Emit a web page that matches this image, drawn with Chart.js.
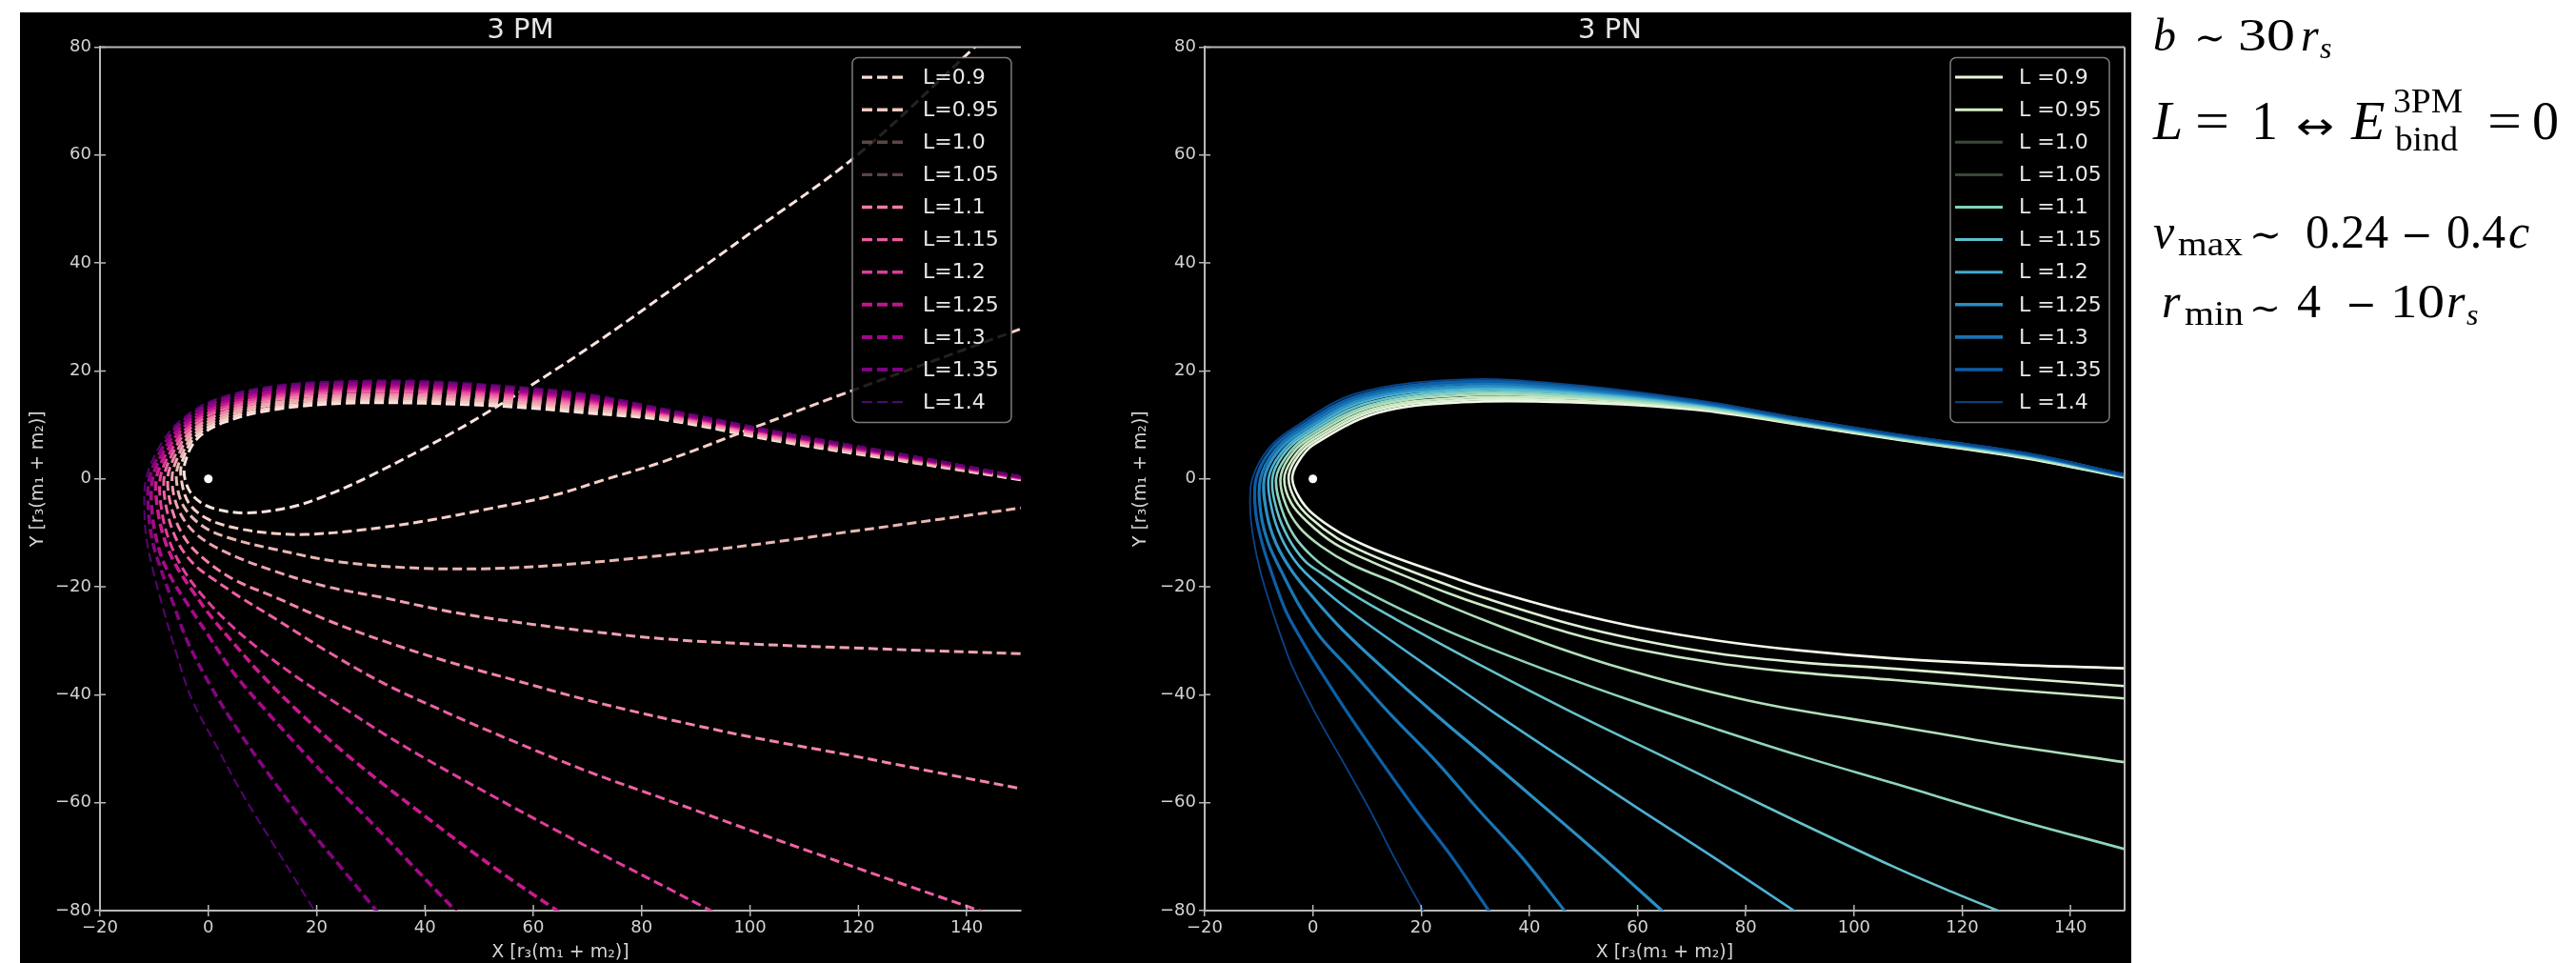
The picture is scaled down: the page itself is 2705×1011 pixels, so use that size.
<!DOCTYPE html>
<html>
<head>
<meta charset="utf-8">
<script src="https://cdn.jsdelivr.net/npm/chart.js@4.4.1/dist/chart.umd.min.js"></script>
<style>
html,body{margin:0;padding:0;background:#ffffff;width:2705px;height:1011px;overflow:hidden}
#bg{position:absolute;left:21px;top:13px;width:2217px;height:998px;background:#000}
#c1{position:absolute;left:21px;top:13px;width:1129px;height:998px}
#c2{position:absolute;left:1150px;top:13px;width:1088px;height:998px}
#notes{position:absolute;left:0;top:0}
</style>
</head>
<body>
<div id="bg"></div>
<canvas id="c1" width="1129" height="998"></canvas>
<canvas id="c2" width="1088" height="998"></canvas>
<svg id="notes" width="2705" height="1011" xmlns="http://www.w3.org/2000/svg" font-family="'Liberation Serif','Times New Roman',serif" fill="#000">
  <text x="2261" y="53" font-size="48" font-style="italic">b</text>
  <text x="2304" y="53" font-size="40" font-family="'DejaVu Serif'" textLength="33" lengthAdjust="spacingAndGlyphs">∼</text>
  <text x="2350" y="53" font-size="48" textLength="60" lengthAdjust="spacingAndGlyphs">30</text>
  <text x="2416" y="53" font-size="48" font-style="italic">r</text>
  <text x="2436" y="61" font-size="32" font-style="italic">s</text>

  <text x="2261" y="146" font-size="56" font-style="italic">L</text>
  <text x="2305" y="146" font-size="56" textLength="36" lengthAdjust="spacingAndGlyphs">=</text>
  <text x="2364" y="146" font-size="56">1</text>
  <text x="2411" y="146" font-size="40" font-family="'DejaVu Sans'" textLength="40" lengthAdjust="spacingAndGlyphs">↔</text>
  <text x="2469" y="146" font-size="58" font-style="italic">E</text>
  <text x="2513" y="118" font-size="35" textLength="73" lengthAdjust="spacingAndGlyphs">3PM</text>
  <text x="2515" y="158" font-size="36" textLength="66" lengthAdjust="spacingAndGlyphs">bind</text>
  <text x="2612" y="146" font-size="56" textLength="36" lengthAdjust="spacingAndGlyphs">=</text>
  <text x="2659" y="146" font-size="56">0</text>

  <text x="2261" y="260" font-size="50" font-style="italic">v</text>
  <text x="2287" y="268" font-size="36" textLength="68" lengthAdjust="spacingAndGlyphs">max</text>
  <text x="2362" y="260" font-size="40" font-family="'DejaVu Serif'" textLength="34" lengthAdjust="spacingAndGlyphs">∼</text>
  <text x="2421" y="260" font-size="50" textLength="87" lengthAdjust="spacingAndGlyphs">0.24</text>
  <text x="2521" y="260" font-size="40" font-family="'DejaVu Serif'" textLength="34" lengthAdjust="spacingAndGlyphs">−</text>
  <text x="2569" y="260" font-size="50" textLength="62" lengthAdjust="spacingAndGlyphs">0.4</text>
  <text x="2634" y="260" font-size="50" font-style="italic">c</text>

  <text x="2270" y="333" font-size="50" font-style="italic">r</text>
  <text x="2294" y="341" font-size="36" textLength="62" lengthAdjust="spacingAndGlyphs">min</text>
  <text x="2362" y="336" font-size="36" font-family="'DejaVu Serif'" textLength="33" lengthAdjust="spacingAndGlyphs">∼</text>
  <text x="2412" y="333" font-size="50">4</text>
  <text x="2463" y="333" font-size="40" font-family="'DejaVu Serif'" textLength="33" lengthAdjust="spacingAndGlyphs">−</text>
  <text x="2510" y="333" font-size="50" textLength="57" lengthAdjust="spacingAndGlyphs">10</text>
  <text x="2569" y="333" font-size="50" font-style="italic">r</text>
  <text x="2590" y="341" font-size="32" font-style="italic">s</text>
</svg>
<script>
// ---------------- data ----------------
const xTicks = [-20, 0, 20, 40, 60, 80, 100, 120, 140];
const yTicks = [-80, -60, -40, -20, 0, 20, 40, 60, 80];

const pmLabels = ['L=0.9','L=0.95','L=1.0','L=1.05','L=1.1','L=1.15','L=1.2','L=1.25','L=1.3','L=1.35','L=1.4'];
const pnLabels = ['L =0.9','L =0.95','L =1.0','L =1.05','L =1.1','L =1.15','L =1.2','L =1.25','L =1.3','L =1.35','L =1.4'];

// 3 PM trajectories [x, y]
const pmL090 = [[150,-0.2],[130,3.0],[105,7.0],[85,10.8],[70,12.2],[55,13.4],[40,14.0],[25,14.0],[12,12.8],[3,10.5],[-2,7.5],[-4.3,3],[-4.2,-0.5],[-2.5,-3.5],[1,-5.5],[7,-6.3],[15,-5.3],[22,-3],[29.8,0.5],[45,8.5],[58.9,16.9],[72,25.5],[84.7,34.5],[100,45.5],[119.7,59.9],[141.5,80],[144,82.5]];
const pmL095 = [[150,-0.1],[130,3.1],[105,7.2],[85,11.0],[70,12.6],[55,13.8],[40,14.4],[25,14.4],[12,13.2],[2.8,10.9],[-2.4,7.8],[-4.8,3.3],[-5.0,0],[-3.6,-4.5],[0,-7.5],[5.5,-9.2],[12,-10.1],[18,-10.3],[28,-9.5],[40,-7.8],[52,-5.5],[63.6,-3.1],[73,-0.2],[84,3.2],[101.5,9.8],[116,15.3],[131.8,21.1],[150,27.8]];
const pmL100 = [[150,0.0],[130,3.2],[105,7.4],[85,11.2],[70,12.9],[55,14.2],[40,14.8],[25,14.8],[12,13.7],[2.6,11.3],[-2.7,8.1],[-5.2,3.6],[-5.9,0],[-4.6,-5],[-1,-8.8],[4,-11],[12.5,-13.1],[24.3,-15.4],[40,-16.6],[55.8,-16.5],[71.5,-15.4],[84.7,-14.1],[100,-12.3],[118.3,-9.8],[135,-7.5],[150,-5.4]];
const pmL105 = [[150,0.0],[130,3.4],[105,7.5],[85,11.4],[70,13.3],[55,14.5],[40,15.2],[25,15.2],[12,14.1],[2.4,11.7],[-3.1,8.4],[-5.7,3.9],[-6.7,0],[-5.6,-5.5],[-2.5,-10],[3,-13.5],[12.5,-17.2],[22,-20],[32.2,-22],[44,-24.5],[55.8,-26.4],[70,-28.2],[84.7,-29.7],[100,-30.6],[118.3,-31.3],[135,-31.9],[150,-32.4]];
const pmL110 = [[150,0.0],[130,3.5],[105,7.7],[85,11.6],[70,13.6],[55,14.9],[40,15.6],[25,15.6],[12,14.6],[2.2,12.1],[-3.4,8.7],[-6.2,4.2],[-7.5,0],[-6.6,-6],[-4,-11.5],[0,-15.5],[5,-18.8],[12.5,-22],[22,-26.2],[32.2,-30],[44,-33.8],[55.8,-37.1],[70,-41],[84.7,-44.5],[100,-47.8],[118.3,-51.2],[135,-54.5],[150,-57.4]];
const pmL115 = [[150,0.1],[130,3.6],[105,7.9],[85,11.8],[70,14.0],[55,15.3],[40,16.1],[25,16.1],[12,15.0],[2,12.6],[-3.8,9],[-6.7,4.5],[-8.2,0],[-7.5,-6.5],[-5.5,-12],[-2.5,-16],[0.8,-18.5],[6,-22],[12.5,-26],[22,-32],[32.2,-37.8],[44,-43.3],[55.8,-48.4],[70,-54.2],[84.7,-59.5],[100,-65.1],[118.3,-71.6],[130,-75.7],[141.8,-79.8],[146,-81.2]];
const pmL120 = [[150,0.2],[130,3.7],[105,8.1],[85,12.0],[70,14.3],[55,15.7],[40,16.5],[25,16.5],[12,15.4],[1.8,13],[-4.1,9.3],[-7.1,4.8],[-8.9,0],[-8.5,-6.5],[-7,-12],[-4.5,-17],[-1.6,-21],[3,-26],[8.7,-31],[16,-36.5],[24.3,-42],[32,-47],[40,-51.8],[52,-58.5],[63.6,-64.8],[75,-70.8],[84.7,-75.8],[91.2,-79.2],[95,-81.2]];
const pmL125 = [[150,0.2],[130,3.8],[105,8.3],[85,12.2],[70,14.7],[55,16.1],[40,16.9],[25,16.9],[12,15.9],[1.6,13.4],[-4.5,9.6],[-7.6,5.1],[-9.6,0],[-9.3,-6],[-8,-11.5],[-6,-16],[-3.1,-20.5],[0.5,-25.5],[4.7,-30.5],[10,-36.5],[16.5,-43],[24,-49.8],[32.2,-56.5],[40,-62.5],[47.9,-68.5],[56,-74.3],[64.4,-80],[66,-81.1]];
const pmL130 = [[150,0.3],[130,4.0],[105,8.4],[85,12.4],[70,15.0],[55,16.4],[40,17.3],[25,17.3],[12,16.3],[1.4,13.8],[-4.8,9.9],[-8.1,5.4],[-10.3,0],[-10.3,-7],[-8.8,-14],[-6.5,-19],[-3.9,-23.1],[0,-29],[4.7,-36],[10.5,-42.8],[16.5,-49.5],[23.5,-57],[30.6,-64.2],[38,-72],[45.6,-80],[47,-81.5]];
const pmL135 = [[150,0.3],[130,4.1],[105,8.6],[85,12.6],[70,15.4],[55,16.8],[40,17.7],[25,17.7],[12,16.8],[1.2,14.2],[-5.2,10.2],[-8.5,5.7],[-10.9,0],[-11,-6.5],[-10.2,-12],[-8.6,-17.2],[-6.5,-23],[-3.9,-30],[0.5,-38.5],[5.5,-46.6],[11.5,-55.2],[18.1,-64.2],[24.5,-72],[31,-80],[32,-81.3]];
const pmL140 = [[150,0.4],[130,4.2],[105,8.8],[85,12.8],[70,15.7],[55,17.2],[40,18.1],[25,18.1],[12,17.2],[1,14.6],[-5.5,10.5],[-9,6],[-11.5,0],[-11.8,-6],[-11.4,-11.3],[-10.2,-17],[-8.6,-23.1],[-6,-32],[-3.1,-40.7],[1.5,-49.5],[6.3,-58.4],[12.5,-68.5],[19.6,-80],[20.5,-81.4]];

// 3 PN trajectories [x, y]
const pnL090 = [[150,0.2],[131.7,3.8],[107.6,7.3],[90,10.0],[70.8,12.8],[47.2,14.2],[27.6,14.2],[11.9,12.2],[0.1,6.3],[-2.8,3],[-3.8,0],[-2.5,-3.5],[0,-6.5],[5,-10],[10,-12.5],[15.8,-14.8],[25,-18],[31.5,-20.2],[47.2,-24.6],[60,-27.5],[75,-30],[90,-31.8],[107.6,-33.3],[128,-34.4],[150,-35.1]];
const pnL095 = [[150,0.3],[131.7,3.9],[107.6,7.4],[90,10.1],[70.8,13.0],[47.2,14.5],[27.6,14.6],[11.5,12.6],[-0.3,6.6],[-3.4,3.3],[-4.5,0],[-3.2,-4],[-0.5,-7.2],[4.5,-11],[10,-13.8],[15.8,-16.2],[25,-19.7],[31.5,-22],[47.2,-26.8],[60,-29.8],[75,-32.4],[90,-34],[107.6,-35.2],[128,-36.8],[150,-38.4]];
const pnL100 = [[150,0.3],[131.7,4.0],[107.6,7.5],[90,10.2],[70.8,13.2],[47.2,14.9],[27.6,15.0],[11.1,12.9],[-0.7,6.9],[-3.9,3.5],[-5.3,0],[-4,-4.5],[-1,-8],[4,-12],[10,-15],[15.8,-17.5],[25,-21.2],[31.5,-23.5],[47.2,-28.5],[60,-31.6],[75,-34.2],[90,-35.9],[107.6,-37.3],[128,-39],[150,-40.7]];
const pnL105 = [[150,0.4],[131.7,4.1],[107.6,7.6],[90,10.4],[70.8,13.3],[47.2,15.2],[27.6,15.5],[10.7,13.3],[-1.1,7.2],[-4.5,3.8],[-6,0],[-5,-4.8],[-2.5,-9],[1.5,-12.5],[7,-15.8],[15.8,-19.5],[25,-23.5],[35,-27.5],[45,-31.2],[55.1,-34.5],[70,-38.6],[85,-42],[107.6,-45.8],[128,-49.3],[150,-52.5]];
const pnL110 = [[150,0.4],[131.7,4.2],[107.6,7.7],[90,10.5],[70.8,13.5],[47.2,15.5],[27.6,15.9],[10.3,13.6],[-1.5,7.5],[-5,4],[-6.8,0],[-5.8,-5.5],[-3.5,-10.5],[0,-14.5],[4,-17.5],[10,-21],[18,-25],[28,-29.5],[43.3,-35.5],[60,-41.5],[75,-46.5],[90,-51.3],[107.6,-56.5],[128,-62.6],[150,-68.6]];
const pnL115 = [[150,0.5],[131.7,4.3],[107.6,7.8],[90,10.6],[70.8,13.7],[47.2,15.9],[27.6,16.3],[10,14],[-1.9,7.8],[-5.6,4.3],[-7.5,0],[-6.6,-6],[-4.5,-11],[-1.5,-15.2],[1.6,-17.5],[8,-21.8],[16,-26.4],[31.5,-34.8],[48,-43.3],[66.9,-52.5],[87,-62.3],[107.6,-72],[118,-76.5],[126.6,-80],[130,-81.3]];
const pnL120 = [[150,0.6],[131.7,4.4],[107.6,7.9],[90,10.7],[70.8,13.9],[47.2,16.2],[27.6,16.7],[9.6,14.4],[-2.2,8.1],[-6.1,4.5],[-8.2,0],[-7.5,-6],[-5.8,-11],[-3.6,-14.8],[-1.4,-17.4],[4,-22.2],[10,-26.8],[21.3,-34.8],[33,-43],[47.2,-52.5],[60,-61],[74,-70.1],[88.9,-80],[91,-81.4]];
const pnL125 = [[150,0.6],[131.7,4.5],[107.6,8.0],[90,10.8],[70.8,14.1],[47.2,16.5],[27.6,17.1],[9.2,14.7],[-2.6,8.4],[-6.7,4.8],[-9,0],[-8.5,-6.5],[-6.8,-12],[-3.8,-17.2],[0.5,-22.5],[5.5,-28],[12.7,-34.8],[22.5,-43.5],[33.1,-52.5],[43,-61],[53.5,-70.1],[64.5,-80],[66,-81.3]];
const pnL130 = [[150,0.7],[131.7,4.6],[107.6,8.1],[90,11.0],[70.8,14.2],[47.2,16.8],[27.6,17.6],[8.8,15.1],[-3,8.7],[-7.2,5],[-9.7,0],[-9.6,-6.5],[-8.2,-12],[-5.8,-17.2],[-2.5,-23.5],[1.5,-29.5],[6.4,-34.8],[14.5,-43.8],[22.9,-52.5],[30.5,-61.2],[38.6,-70.1],[46.5,-80],[47.5,-81.3]];
const pnL135 = [[150,0.7],[131.7,4.7],[107.6,8.2],[90,11.1],[70.8,14.4],[47.2,17.2],[27.6,18.0],[8.4,15.4],[-3.4,9],[-7.8,5.3],[-10.5,0],[-10.6,-6],[-9.5,-11.5],[-7.7,-17.2],[-5,-24.5],[-2,-30],[0.9,-34.8],[6.5,-43.5],[12.7,-52.5],[19,-61.3],[25.7,-70.1],[32.5,-80],[33.5,-81.4]];
const pnL140 = [[150,0.8],[131.7,4.8],[107.6,8.3],[90,11.2],[70.8,14.6],[47.2,17.5],[27.6,18.4],[8,15.8],[-3.8,9.3],[-8.3,5.5],[-11.2,0],[-11.6,-5.5],[-11,-11],[-9.7,-17.2],[-7.5,-24.5],[-5.8,-29.5],[-3.8,-34.8],[0.5,-43.5],[5.6,-52.5],[10.5,-61.3],[15,-70.1],[20.4,-80],[21.2,-81.4]];

const centerPoint = [[0, 0]];

// ---------------- styles ----------------
const FONT = "'DejaVu Sans', 'Liberation Sans', sans-serif";
const AXC = '#b8b8b8';
const TXC = '#d4d4d4';
const pmLineColors   = ['#fbe4df','#f8d0c8','#eab8b2','#eea3b2','#f384ac','#ee62a2','#df3f9c','#c81b8e','#a9098a','#84057e','#590471'];
const pmLegendColors = ['#f6dcd6','#f3c8c0','#5c4646','#5e4149','#f27aa8','#ec5b9d','#da3d9b','#c0168a','#a0078a','#7a0680','#4a0a70'];
const pnLineColors   = ['#f1f9e9','#dcf0d2','#cbe8c4','#b2dfba','#8ed4c0','#66c2ca','#4cb0d4','#2c90c4','#1876b4','#0c5ea6','#0a4488'];
const pnLegendColors = ['#eaf5dc','#d6efc8','#3c4a3c','#3a4838','#7fd4bf','#5bbfcb','#44a9d0','#2a8cc4','#1a72b4','#0c5ea4','#0a3f7e'];
const pmWidths = [3.0,3.0,3.0,3.0,3.0,3.0,3.0,3.6,3.6,3.6,2.0];
const pnWidths = [2.6,2.6,2.6,2.6,2.6,2.6,2.6,3.2,3.2,3.2,1.8];

const pmCurves = [pmL090,pmL095,pmL100,pmL105,pmL110,pmL115,pmL120,pmL125,pmL130,pmL135,pmL140];
const pnCurves = [pnL090,pnL095,pnL100,pnL105,pnL110,pnL115,pnL120,pnL125,pnL130,pnL135,pnL140];

const fmt = v => (v < 0 ? '\u2212' + Math.abs(v) : String(v));

function buildSets(curves, labels, lineColors, legendColors, widths, dashed) {
  const sets = curves.map((c, i) => ({
    label: labels[i],
    data: c.map(p => ({x: p[0], y: p[1]})),
    showLine: true, pointRadius: 0, pointHoverRadius: 0,
    borderColor: lineColors[i], backgroundColor: lineColors[i],
    legendColor: legendColors[i],
    borderWidth: widths[i],
    borderDash: dashed ? [10, 5] : [],
    tension: 0.35, fill: false,
    order: curves.length - i + 1,
    isCurve: true
  }));
  sets.push({
    label: 'center', data: centerPoint.map(p => ({x: p[0], y: p[1]})),
    showLine: false, pointRadius: 4.5, pointHoverRadius: 4.5,
    pointBackgroundColor: '#ffffff', pointBorderColor: '#ffffff', pointBorderWidth: 0,
    order: 0, isCurve: false
  });
  return sets;
}

const framePlugin = {
  id: 'frame',
  afterDatasetsDraw(chart, args, opts) {
    const {ctx, chartArea: a} = chart;
    const xs = chart.scales.x, ys = chart.scales.y;
    ctx.save();
    ctx.strokeStyle = AXC;
    ctx.lineWidth = 2;
    ctx.setLineDash([]);
    ctx.beginPath();
    ctx.moveTo(a.left, a.top); ctx.lineTo(a.right, a.top);
    if (opts.rightSpine) { ctx.moveTo(a.right, a.top); ctx.lineTo(a.right, a.bottom); }
    ctx.stroke();
    ctx.lineWidth = 1.5;
    ctx.beginPath();
    xTicks.forEach(v => { const px = xs.getPixelForValue(v); ctx.moveTo(px, a.bottom); ctx.lineTo(px, a.bottom - 6); });
    yTicks.forEach(v => { const py = ys.getPixelForValue(v); ctx.moveTo(a.left, py); ctx.lineTo(a.left + 6, py); });
    ctx.stroke();
    const bw = 167, bh = 383;
    const bx = a.right - opts.rightGap - bw, by = a.top + 11;
    ctx.fillStyle = 'rgba(0,0,0,0.85)';
    ctx.strokeStyle = '#7c7c7c';
    ctx.lineWidth = 1.5;
    ctx.beginPath();
    if (ctx.roundRect) ctx.roundRect(bx, by, bw, bh, 6); else ctx.rect(bx, by, bw, bh);
    ctx.fill(); ctx.stroke();
    ctx.font = '22px ' + FONT;
    ctx.textBaseline = 'middle';
    ctx.textAlign = 'left';
    chart.data.datasets.filter(d => d.isCurve).forEach((d, i) => {
      const yy = by + 20.7 + i * 34.1;
      ctx.strokeStyle = d.legendColor;
      ctx.lineWidth = d.borderWidth + 0.4;
      ctx.setLineDash(opts.dashed ? [11, 5] : []);
      ctx.beginPath(); ctx.moveTo(bx + opts.sx1, yy); ctx.lineTo(bx + opts.sx2, yy); ctx.stroke();
      ctx.setLineDash([]);
      ctx.fillStyle = '#e8e8e8';
      ctx.fillText(d.label, bx + opts.tx, yy + 1);
    });
    ctx.restore();
  }
};

function makeChart(id, title, datasets, cfg) {
  return new Chart(document.getElementById(id), {
    type: 'scatter',
    data: {datasets},
    options: {
      responsive: false, animation: false, devicePixelRatio: 1,
      events: [],
      layout: {padding: {left: 0, right: cfg.padRight, top: 0, bottom: 0}},
      elements: {line: {capBezierPoints: false}},
      plugins: {
        legend: {display: false},
        tooltip: {enabled: false},
        title: {display: true, text: title, color: '#e6e6e6',
                font: {family: FONT, size: 29, weight: 'normal', lineHeight: 1.2},
                padding: {top: 1.6, bottom: 0}},
        frame: cfg.frame
      },
      scales: {
        x: {
          type: 'linear', min: -20, max: 150,
          afterBuildTicks(s) { s.ticks = xTicks.map(v => ({value: v})); },
          afterFit(s) { s.height = 55; },
          grid: {display: true, drawOnChartArea: false, drawTicks: true, tickLength: 6, color: AXC, lineWidth: 1.5},
          border: {display: true, color: AXC, width: 2},
          ticks: {color: TXC, font: {family: FONT, size: 18}, padding: 2, maxRotation: 0, autoSkip: false, callback: fmt},
          title: {display: true, text: 'X [r\u2083(m\u2081 + m\u2082)]', color: TXC,
                  font: {family: FONT, size: 19, lineHeight: 1.2}, padding: {top: 0, bottom: 0}}
        },
        y: {
          type: 'linear', min: -80, max: 80,
          afterBuildTicks(s) { s.ticks = yTicks.map(v => ({value: v})); },
          afterFit(s) { s.width = cfg.yWidth; },
          grid: {display: true, drawOnChartArea: false, drawTicks: true, tickLength: 6, color: AXC, lineWidth: 1.5},
          border: {display: true, color: AXC, width: 2},
          ticks: {color: TXC, font: {family: FONT, size: 18}, padding: 3, autoSkip: false, callback: fmt},
          title: {display: true, text: 'Y [r\u2083(m\u2081 + m\u2082)]', color: TXC,
                  font: {family: FONT, size: 19, lineHeight: 1.2}, padding: {top: cfg.yTitlePad, bottom: 0}}
        }
      }
    },
    plugins: [framePlugin]
  });
}

makeChart('c1', '3 PM', buildSets(pmCurves, pmLabels, pmLineColors, pmLegendColors, pmWidths, true), {
  padRight: 78, yWidth: 84, yTitlePad: 7.6,
  frame: {rightSpine: false, rightGap: 10, sx1: 10, sx2: 53, tx: 74, dashed: true}
});
makeChart('c2', '3 PN', buildSets(pnCurves, pnLabels, pnLineColors, pnLegendColors, pnWidths, false), {
  padRight: 7, yWidth: 115, yTitlePad: 36.6,
  frame: {rightSpine: true, rightGap: 16, sx1: 5, sx2: 55, tx: 72, dashed: false}
});
</script>
</body>
</html>
